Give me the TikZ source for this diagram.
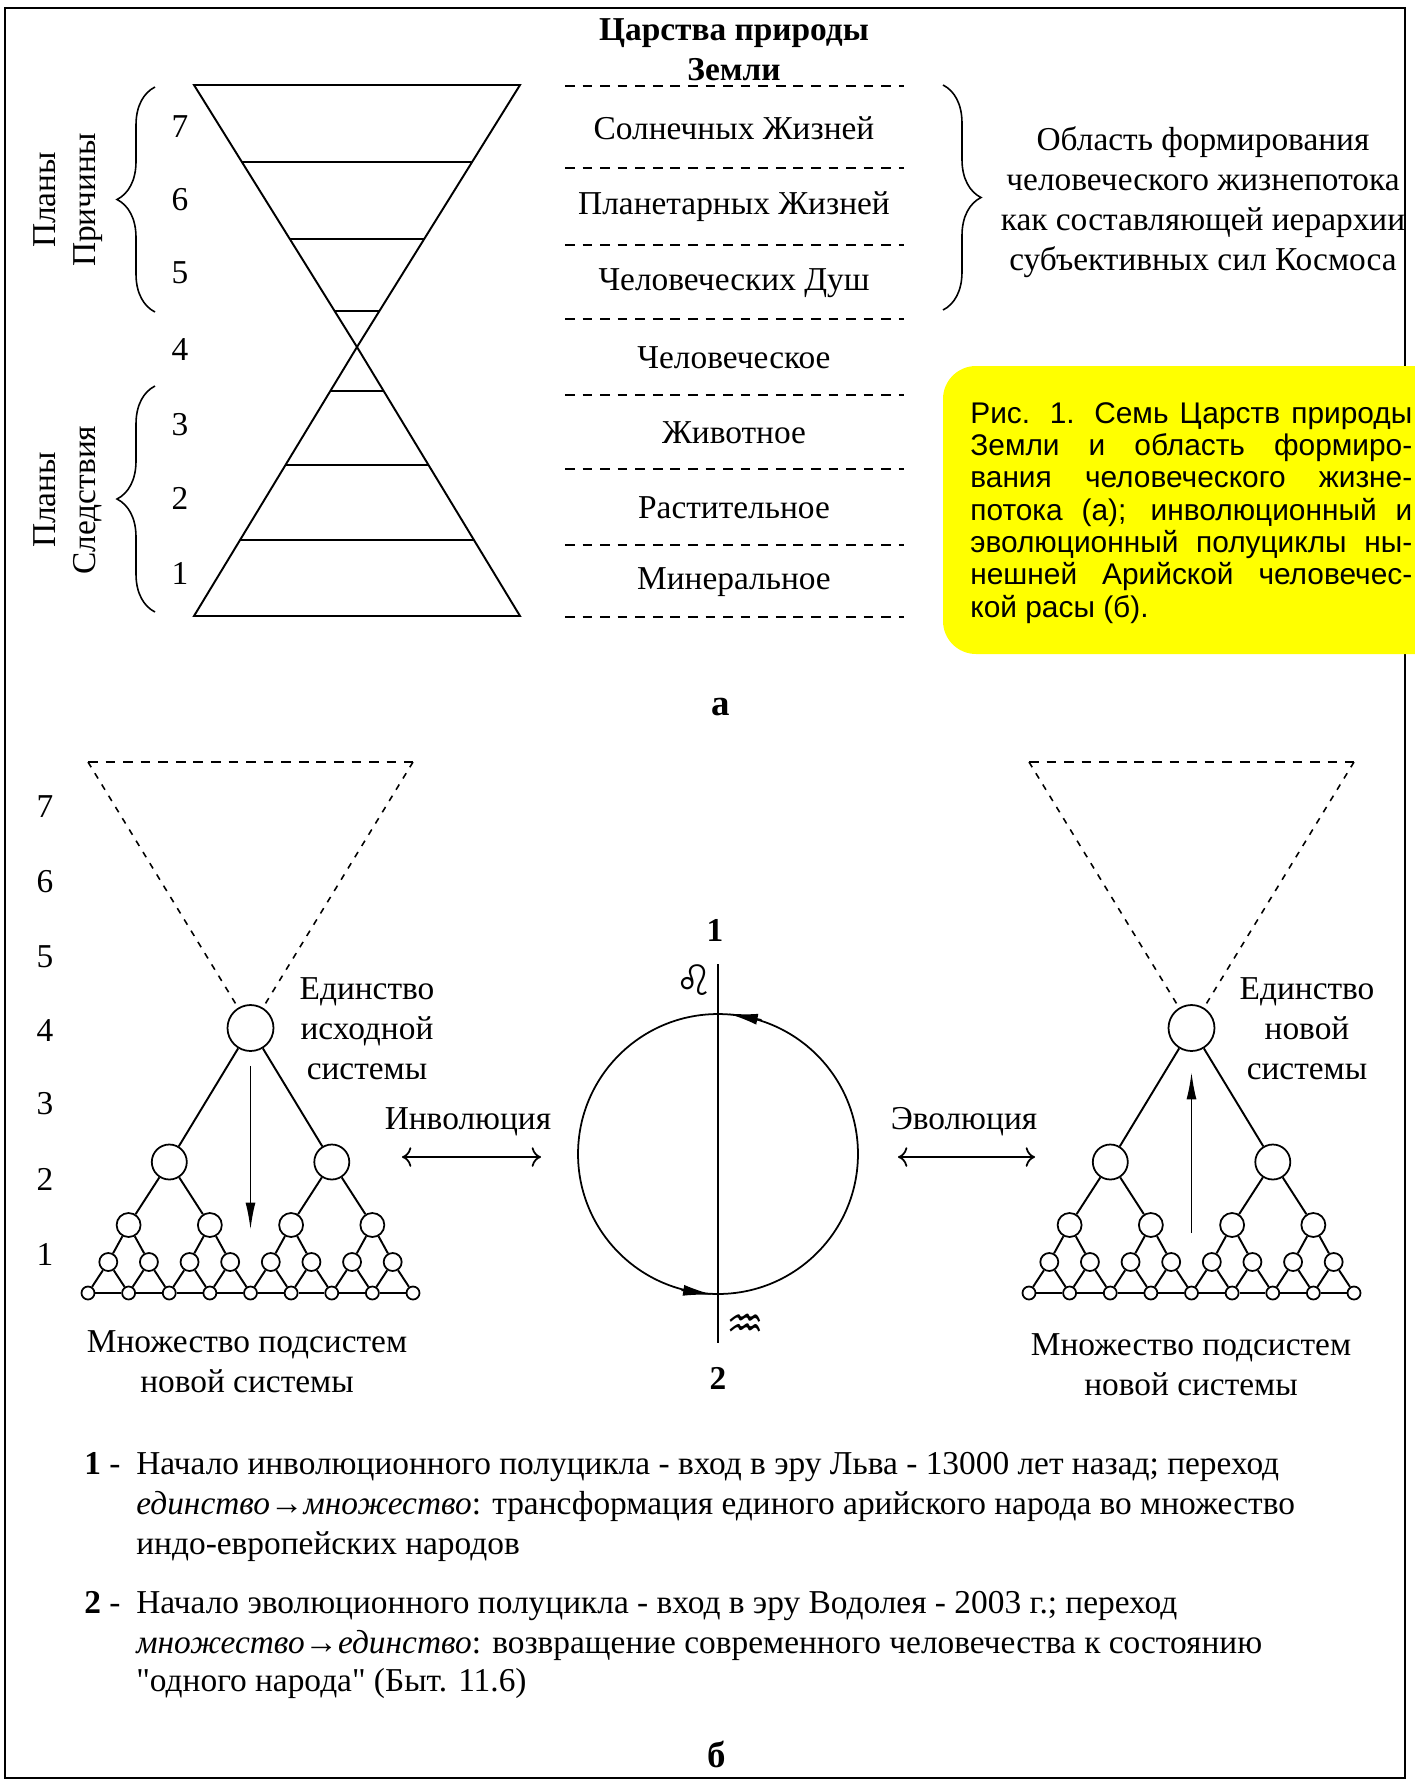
\documentclass[tikz,border=0pt]{standalone}
\usepackage{fontspec}
\setmainfont{Liberation Serif}
\newfontfamily\plainfont{Liberation Serif}
\newfontfamily\capfont{Liberation Sans}
\newfontfamily\zodfont{DejaVu Sans}
\usepackage{xcolor}
\usepackage{tikz}
\usetikzlibrary{calc,arrows.meta,decorations.pathreplacing}
\definecolor{capyellow}{RGB}{255,255,0}
\newcommand{\basefont}{\fontsize{19}{22.7}\selectfont}
\newcommand{\qt}{{\plainfont"}}
\tikzset{my vertex/.style = {draw, circle, inner sep=0pt, line width=1pt},
  my line/.style = {line width=1.1pt},
  my dash/.style = {line width=0.9pt, dash pattern=on 5.5pt off 4.5pt},
  my side/.style = {line width=0.9pt, dash pattern=on 3.5pt off 4pt},
  my brace/.style = {decorate, decoration={brace, amplitude=0.76cm}, line width=0.9pt},
  my arrow/.style = {line width=1.1pt, -{Latex[length=0.55cm,width=0.2cm]}},
  my tip/.style = {line width=1.1pt, -{Latex[length=0.6cm,width=0.22cm]}},
  my double/.style = {line width=1pt, {To[scale=1.4]}-{To[scale=1.4]}},
  my text/.style = {anchor=base west, inner sep=0pt}}

\begin{document}
\begin{tikzpicture}[x=0.02cm,y=-0.02cm,font=\basefont]
  \useasboundingbox (0,0) rectangle (1414,1782);
  \draw[line width=1.5pt] (5,8) rectangle (1405,1778);
  % a
  \coordinate (TL) at (194,85);
  \coordinate (TR) at (520,85);
  \coordinate (X) at (357,347);
  \coordinate (BL) at (194,616);
  \coordinate (BR) at (520,616);
  \draw[my line] (TL) -- (TR) -- (X) -- cycle;
  \draw[my line] (BL) -- (BR) -- (X) -- cycle;
  \foreach \t in {0.294,0.588,0.863}
    \draw[my line] ($(TL)!\t!(X)$) -- ($(TR)!\t!(X)$);
  \foreach \t in {0.164,0.439,0.717}
    \draw[my line] ($(X)!\t!(BL)$) -- ($(X)!\t!(BR)$);
  \foreach \n/\y in {7/127,6/200,5/273,4/350,3/425,2/498,1/573}
    \node (a\n) at (180,\y) {\n};
  \draw[my brace] (155,312) -- (155,87);
  \draw[my brace] (155,612) -- (155,386);
  \draw[my brace] (943,85) -- (943,310);
  \node[rotate=90, align=center] (P1) at (68,200) {Планы\\Причины};
  \node[rotate=90, align=center] (P2) at (68,500) {Планы\\Следствия};
  \node[font=\basefont\bfseries, align=center] (T) at (734,50) {Царства природы\\Земли};
  \foreach \y in {86,168,245,319,395,469,545,617}
    \draw[my dash] (565,\y) -- (904,\y);
  \foreach \k/\y in {Солнечных Жизней/128,Планетарных Жизней/207,Человеческих Душ/283,
      Человеческое/358,Животное/433,Растительное/508,Минеральное/582}
    \node at (734,\y) {\k};
  \node[align=center] (O) at (1203,202) {Область формирования\\человеческого жизнепотока\\как составляющей иерархии\\субъективных сил Космоса};
  \fill[capyellow, rounded corners=0.66cm] (943,366) rectangle (1470,654);
  \node[font=\capfont\fontsize{17}{18.4}\selectfont, align=left, anchor=north west, inner sep=0pt] (cap) at (970,402)
    {\makebox[8.84cm][s]{Рис. 1. Семь Царств природы}\\
     \makebox[8.84cm][s]{Земли и область формиро-}\\
     \makebox[8.84cm][s]{вания человеческого жизне-}\\
     \makebox[8.84cm][s]{потока (а); инволюционный и}\\
     \makebox[8.84cm][s]{эволюционный полуциклы ны-}\\
     \makebox[8.84cm][s]{нешней Арийской человечес-}\\
     кой расы (б).};
  \node[font=\fontsize{21}{24}\selectfont\bfseries] (capA) at (721,707) {а};
  % b
  \foreach \n/\y in {7/807,6/882,5/957,4/1030,3/1104,2/1179,1/1254}
    \node (b\n) at (45,\y) {\n};
  \foreach \s/\ox in {l/0,r/941} {
    \node[my vertex, minimum size=0.92cm] (\s-0) at (250.5+\ox,1028) {};
    \foreach \i in {0,1}
      \node[my vertex, minimum size=0.7cm] (\s-1-\i) at (169.3+162.5*\i+\ox,1162) {};
    \foreach \i in {0,...,3}
      \node[my vertex, minimum size=0.48cm] (\s-2-\i) at (128.6+81.25*\i+\ox,1225) {};
    \foreach \i in {0,...,7}
      \node[my vertex, minimum size=0.36cm] (\s-3-\i) at (108.3+40.625*\i+\ox,1262) {};
    \foreach \i in {0,...,8}
      \node[my vertex, minimum size=0.26cm] (\s-4-\i) at (88+40.625*\i+\ox,1293) {};
    \draw[my line] (\s-0) -- (\s-1-0) (\s-0) -- (\s-1-1);
    \foreach \i [evaluate=\i as \p using int(\i/2)] in {0,...,3}
      \draw[my line] (\s-1-\p) -- (\s-2-\i);
    \foreach \i [evaluate=\i as \p using int(\i/2)] in {0,...,7}
      \draw[my line] (\s-2-\p) -- (\s-3-\i);
    \foreach \i [evaluate=\i as \q using int(\i+1)] in {0,...,7} {
      \draw[my line] (\s-3-\i) -- (\s-4-\i);
      \draw[my line] (\s-3-\i) -- (\s-4-\q);
      \draw[my line] (\s-4-\i) -- (\s-4-\q);
    }
    \coordinate (\s-a) at (88+\ox,762);
    \coordinate (\s-b) at (413+\ox,762);
    \draw[my dash] (\s-a) -- (\s-b);
    \draw[my side] (\s-a) -- (\s-0) (\s-b) -- (\s-0);
  }
  \coordinate (l-end) at (250.5,1230);
  \draw[my arrow, shorten <=0.28cm] (l-0) -- (l-end);
  \coordinate (r-start) at (1191.5,1233);
  \draw[my arrow, shorten >=0.4cm] (r-start) -- (r-0);
  \node[align=center] (lU) at (367,1029) {Единство\\исходной\\системы};
  \node[align=center] (rU) at (1307,1029) {Единство\\новой\\системы};
  \node[align=center] (lM) at (247,1362) {Множество подсистем\\новой системы};
  \node[align=center] (rM) at (1191,1365) {Множество подсистем\\новой системы};
  % cycle
  \node[draw, circle, line width=1pt, minimum size=5.6cm, inner sep=0pt] (cyc) at (718,1154) {};
  \coordinate (c-top) at (718,964);
  \coordinate (c-bot) at (718,1343);
  \draw[my line] (c-top) -- (c-bot);
  \draw[my tip] (cyc.72) -- (cyc.86);
  \draw[my tip] (cyc.255) -- (cyc.268);
  \node[font=\basefont\bfseries] (one) at (715,930) {1};
  \node[font=\basefont\bfseries] (two) at (718,1378) {2};
  \node[font=\zodfont\fontsize{24}{26}\selectfont] (leo) at (694,980) {♌};
  \node[font=\zodfont\fontsize{24}{26}\selectfont] (aqr) at (745,1326) {♒};
  \coordinate (inv-a) at (402,1157);
  \coordinate (inv-b) at (541,1157);
  \draw[my double] (inv-a) -- (inv-b);
  \node (inv) at (468,1122) {Инволюция};
  \coordinate (evo-a) at (898,1157);
  \coordinate (evo-b) at (1035,1157);
  \draw[my double] (evo-a) -- (evo-b);
  \node (evo) at (964,1122) {Эволюция};
  % notes
  \node[my text] (n1) at (84,1474) {\textbf{1} -};
  \node[my text] (t11) at (136,1474) {Начало инволюционного полуцикла - вход в эру Льва - 13000 лет назад; переход};
  \node[my text] (t12) at (136,1514) {\textit{единство→множество}: трансформация единого арийского народа во множество};
  \node[my text] (t13) at (136,1554) {индо-европейских народов};
  \node[my text] (n2) at (84,1613) {\textbf{2} -};
  \node[my text] (t21) at (136,1613) {Начало эволюционного полуцикла - вход в эру Водолея - 2003 г.; переход};
  \node[my text] (t22) at (136,1653) {\textit{множество→единство}: возвращение современного человечества к состоянию};
  \node[my text] (t23) at (136,1691) {\qt одного народа\qt{} (Быт. 11.6)};
  \node[font=\fontsize{21}{24}\selectfont\bfseries] (capB) at (717,1754) {б};
\end{tikzpicture}
\end{document}
